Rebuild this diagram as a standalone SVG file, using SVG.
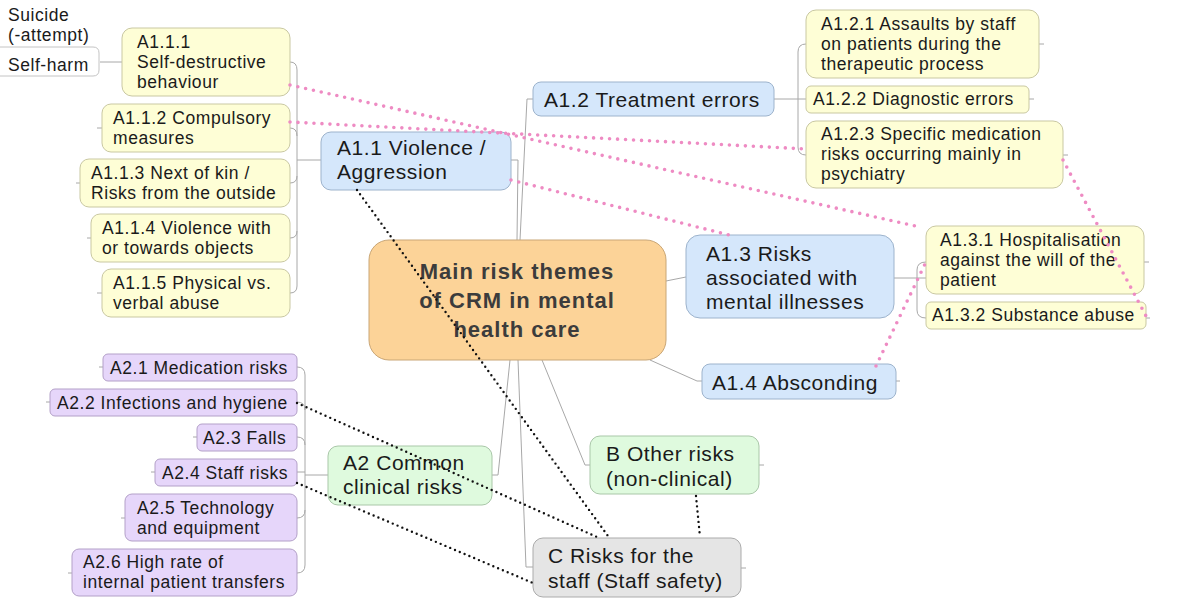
<svg xmlns="http://www.w3.org/2000/svg" width="1200" height="601" viewBox="0 0 1200 601">
<style>
text{font-family:"Liberation Sans",Arial,sans-serif;fill:#1a1a1a}
.leaf{font-size:17.5px;letter-spacing:0.55px}
.mid{font-size:21px;letter-spacing:0.55px}
.ctr{font-size:22px;font-weight:bold;letter-spacing:1px;fill:#3c3c3c}
.yel{fill:#FEFED6;stroke:#C9C8A2;stroke-width:1}
.blu{fill:#D5E7FB;stroke:#9DB3CC;stroke-width:1}
.pur{fill:#E6D6FA;stroke:#B3A0C8;stroke-width:1}
.grn{fill:#DFFADE;stroke:#A9C7A8;stroke-width:1}
.gry{fill:#E5E5E5;stroke:#ABABAB;stroke-width:1}
.org{fill:#FCD398;stroke:#C9A676;stroke-width:1}
.ln{fill:none;stroke:#A8A8A8;stroke-width:1}
.pink{fill:none;stroke:#EE8BC3;stroke-width:3.6;stroke-dasharray:0 8;stroke-linecap:round}
.blk{fill:none;stroke:#111;stroke-width:2.4;stroke-dasharray:0 5.2;stroke-linecap:round}
</style>
<rect width="1200" height="601" fill="#fff"/>
<g id="connectors">
<path class="ln" d="M511 160 L518 160 L517 240"/>
<path class="ln" d="M533 99 L527 99 L520 240"/>
<path class="ln" d="M666 281 L686 277"/>
<path class="ln" d="M650 360 L697 381 L702 381"/>
<path class="ln" d="M510 360 L498 475 L491 475"/>
<path class="ln" d="M542 360 L585 465 L590 465"/>
<path class="ln" d="M518 360 L526 567 L533 567"/>
<path class="ln" d="M297 160 L321 160"/>
<path class="ln" d="M290 62 Q297 62 297 70 L297 286 Q297 293 290 293"/>
<path class="ln" d="M290 128 Q297 128 297 136"/>
<path class="ln" d="M290 183 Q297 183 297 176"/>
<path class="ln" d="M290 238 Q297 238 297 231"/>
<path class="ln" d="M100 62 L122 62"/>
<path class="ln" d="M774 99 L806 99"/>
<path class="ln" d="M806 44 Q798 44 798 52 L798 147 Q798 155 806 155"/>
<path class="ln" d="M894 278 L926 278"/>
<path class="ln" d="M926 262 Q917 262 917 270 L917 310 Q917 318 926 318"/>
<path class="ln" d="M305 475 L328 475"/>
<path class="ln" d="M297 367 Q305 367 305 375 L305 565 Q305 573 297 573"/>
<path class="ln" d="M297 402 Q305 402 305 410"/>
<path class="ln" d="M297 437 Q305 437 305 445"/>
<path class="ln" d="M297 472 L305 472"/>
<path class="ln" d="M297 518 Q305 518 305 510"/>
<path class="ln" d="M97 128 L102 128 M76 183 L80 183 M87 238 L91 238 M97 293 L102 293 M1039 44 L1044 44 M1029 99 L1034 99 M1063 155 L1068 155 M1144 262 L1149 262 M1146 318 L1150 318 M896 381 L900 381 M759 465 L764 465 M741 568 L746 568 M99 367 L103 367 M46 402 L50 402 M193 437 L197 437 M151 472 L155 472 M121 518 L125 518 M68 573 L72 573"/>
</g>
<g id="center">
<rect class="org" x="369" y="240" width="297" height="120" rx="20"/>
<text class="ctr" x="517" y="279" text-anchor="middle">Main risk themes</text>
<text class="ctr" x="517" y="308" text-anchor="middle">of CRM in mental</text>
<text class="ctr" x="517" y="337" text-anchor="middle">health care</text>
</g>
<g id="A1.1">
<rect class="blu" x="321" y="132" width="190" height="58" rx="10"/>
<text class="mid" x="337" y="155">A1.1 Violence /</text>
<text class="mid" x="337" y="179">Aggression</text>
</g>
<g id="A1.2">
<rect class="blu" x="533" y="82" width="241" height="34" rx="8"/>
<text class="mid" x="544" y="107">A1.2 Treatment errors</text>
</g>
<g id="A1.3">
<rect class="blu" x="686" y="235" width="208" height="83" rx="14"/>
<text class="mid" x="706" y="261">A1.3 Risks</text>
<text class="mid" x="706" y="285">associated with</text>
<text class="mid" x="706" y="309">mental illnesses</text>
</g>
<g id="A1.4">
<rect class="blu" x="702" y="364" width="194" height="35" rx="8"/>
<text class="mid" x="712" y="390">A1.4 Absconding</text>
</g>
<g id="A2">
<rect class="grn" x="328" y="446" width="164" height="59" rx="10"/>
<text class="mid" x="343" y="470">A2 Common</text>
<text class="mid" x="343" y="494">clinical risks</text>
</g>
<g id="B">
<rect class="grn" x="590" y="436" width="169" height="58" rx="10"/>
<text class="mid" x="606" y="461">B Other risks</text>
<text class="mid" x="606" y="486">(non-clinical)</text>
</g>
<g id="C">
<rect class="gry" x="533" y="538" width="208" height="59" rx="10"/>
<text class="mid" x="548" y="563">C Risks for the</text>
<text class="mid" x="548" y="588">staff (Staff safety)</text>
</g>
<g id="Suicide">
<text class="leaf" x="8" y="21">Suicide</text>
<text class="leaf" x="8" y="41">(-attempt)</text>
</g>
<g id="Self-harm">
<path fill="none" stroke="#C4C4C4" stroke-width="1" d="M0 47 L93 47 Q99 47 99 53 L99 70 Q99 76 93 76 L0 76"/>
<text class="leaf" x="8" y="71">Self-harm</text>
</g>
<g id="A1.1.1">
<rect class="yel" x="122" y="28" width="168" height="68" rx="10"/>
<text class="leaf" x="137" y="48">A1.1.1</text>
<text class="leaf" x="137" y="68">Self-destructive</text>
<text class="leaf" x="137" y="88">behaviour</text>
</g>
<g id="A1.1.2">
<rect class="yel" x="102" y="104" width="188" height="48" rx="9"/>
<text class="leaf" x="113" y="124">A1.1.2 Compulsory</text>
<text class="leaf" x="113" y="144">measures</text>
</g>
<g id="A1.1.3">
<rect class="yel" x="80" y="159" width="210" height="48" rx="9"/>
<text class="leaf" x="91" y="179">A1.1.3 Next of kin /</text>
<text class="leaf" x="91" y="199">Risks from the outside</text>
</g>
<g id="A1.1.4">
<rect class="yel" x="91" y="214" width="199" height="48" rx="9"/>
<text class="leaf" x="102" y="234">A1.1.4 Violence with</text>
<text class="leaf" x="102" y="254">or towards objects</text>
</g>
<g id="A1.1.5">
<rect class="yel" x="102" y="269" width="188" height="48" rx="9"/>
<text class="leaf" x="113" y="289">A1.1.5 Physical vs.</text>
<text class="leaf" x="113" y="309">verbal abuse</text>
</g>
<g id="A1.2.1">
<rect class="yel" x="806" y="10" width="233" height="68" rx="10"/>
<text class="leaf" x="821" y="30">A1.2.1 Assaults by staff</text>
<text class="leaf" x="821" y="50">on patients during the</text>
<text class="leaf" x="821" y="70">therapeutic process</text>
</g>
<g id="A1.2.2">
<rect class="yel" x="806" y="86" width="223" height="27" rx="5"/>
<text class="leaf" x="813" y="105">A1.2.2 Diagnostic errors</text>
</g>
<g id="A1.2.3">
<rect class="yel" x="806" y="121" width="257" height="67" rx="10"/>
<text class="leaf" x="821" y="140">A1.2.3 Specific medication</text>
<text class="leaf" x="821" y="160">risks occurring mainly in</text>
<text class="leaf" x="821" y="180">psychiatry</text>
</g>
<g id="A1.3.1">
<rect class="yel" x="926" y="226" width="218" height="68" rx="10"/>
<text class="leaf" x="940" y="246">A1.3.1 Hospitalisation</text>
<text class="leaf" x="940" y="266">against the will of the</text>
<text class="leaf" x="940" y="286">patient</text>
</g>
<g id="A1.3.2">
<rect class="yel" x="926" y="302" width="220" height="27" rx="5"/>
<text class="leaf" x="932" y="321">A1.3.2 Substance abuse</text>
</g>
<g id="A2.1">
<rect class="pur" x="103" y="354" width="194" height="27" rx="5"/>
<text class="leaf" x="110" y="374">A2.1 Medication risks</text>
</g>
<g id="A2.2">
<rect class="pur" x="50" y="389" width="247" height="27" rx="5"/>
<text class="leaf" x="57" y="409">A2.2 Infections and hygiene</text>
</g>
<g id="A2.3">
<rect class="pur" x="197" y="424" width="100" height="27" rx="5"/>
<text class="leaf" x="203" y="444">A2.3 Falls</text>
</g>
<g id="A2.4">
<rect class="pur" x="155" y="459" width="142" height="27" rx="5"/>
<text class="leaf" x="162" y="479">A2.4 Staff risks</text>
</g>
<g id="A2.5">
<rect class="pur" x="125" y="494" width="172" height="47" rx="7"/>
<text class="leaf" x="137" y="514">A2.5 Technology</text>
<text class="leaf" x="137" y="534">and equipment</text>
</g>
<g id="A2.6">
<rect class="pur" x="72" y="549" width="225" height="47" rx="7"/>
<text class="leaf" x="83" y="568">A2.6 High rate of</text>
<text class="leaf" x="83" y="588">internal patient transfers</text>
</g>
<g id="relations">
<path class="pink" d="M290 85 L920 227"/>
<path class="pink" d="M290 122 L806 149"/>
<path class="pink" d="M511 180 L733 236"/>
<path class="pink" d="M876 366 L925 264"/>
<path class="pink" d="M1063 160 L1146 316"/>
<path class="blk" d="M357 190 L608 536"/>
<path class="blk" d="M297 403 L597 537"/>
<path class="blk" d="M297 483 L533 583"/>
<path class="blk" d="M696 496 L700 537"/>
</g>
</svg>
